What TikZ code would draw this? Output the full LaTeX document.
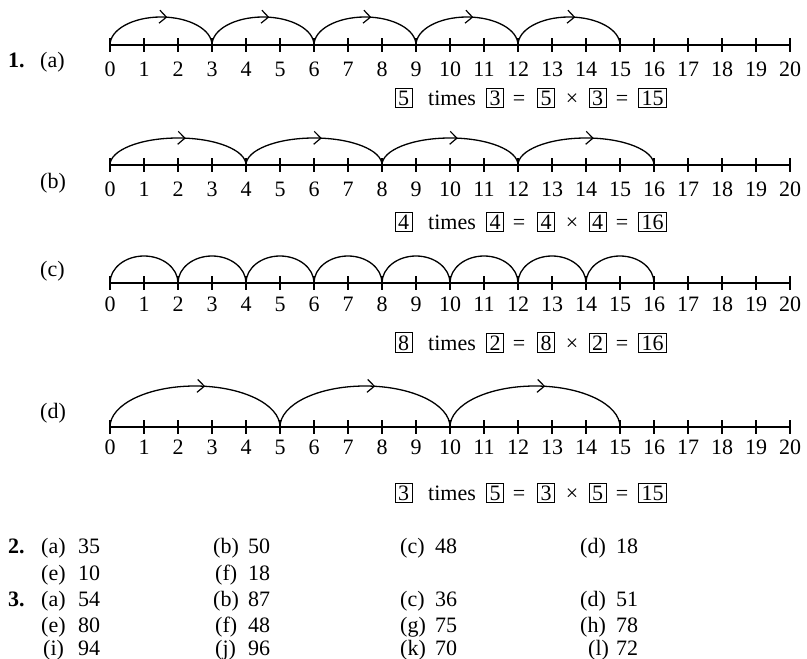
\documentclass[tikz,border=0pt]{standalone}
\usepackage{fontspec}
\setmainfont{Liberation Serif}
\usetikzlibrary{arrows.meta,decorations.markings}
\tikzset{
  axisline/.style={line width=2.6pt},
  tickline/.style={line width=1.7pt},
  jumpline/.style={line width=1.3pt},
  jumparrow/.style={jumpline, postaction={decorate},
    decoration={markings, mark=at position 0.55 with {\arrow{Straight Barb[length=7pt,width=13pt,line width=1.2pt]}}}},
  num/.style={font=\fontsize{22}{26}\selectfont, inner sep=0pt, anchor=base},
  txt/.style={font=\fontsize{22}{26}\selectfont, inner sep=0pt, anchor=base west},
  bx/.style={draw, line width=0.8pt, font=\fontsize{22}{26}\selectfont, inner xsep=3pt, inner ysep=2.5pt, anchor=base},
}
% #1 prefix, #2 axis y, #3 digit baseline offset
\newcommand\nline[3]{%
  \foreach \k in {0,...,20}{
    \coordinate (#1\k) at ({110+34*\k},#2);
    \draw[tickline] ({110+34*\k},#2-7) -- ({110+34*\k},#2+7);
    \node[num] (#1l\k) at ({110+34*\k},#2+#3) {\k};
  }
  \draw[axisline] (#10) -- (#120);
}
\newcommand\eqline[5]{%
  \node[bx] (#1e1) at (403.5,#2) {#3};
  \node[num] (#1e2) at (452,#2) {times};
  \node[bx] (#1e3) at (495,#2) {#4};
  \node[num] (#1e4) at (519,#2) {=};
  \node[bx] (#1e5) at (546,#2) {#3};
  \node[num] (#1e6) at (572,#2) {×};
  \node[bx] (#1e7) at (597.5,#2) {#4};
  \node[num] (#1e8) at (622,#2) {=};
  \node[bx] (#1e9) at (652.5,#2) {#5};
}
\begin{document}
\begin{tikzpicture}[x=1pt,y=-1pt]
\useasboundingbox (0,0) rectangle (807,659);
% (a)
\nline{a}{45}{31}
\foreach \s/\e in {0/3,3/6,6/9,9/12,12/15}
  \draw[jumparrow] (a\s) arc[start angle=180,end angle=0,x radius=51pt,y radius=28pt];
\node[txt] (n1) at (8,67) {\textbf{1.}};
\node[txt] (la) at (40,67) {(a)};
\eqline{a}{105}{5}{3}{15}
% (b)
\nline{b}{165}{31}
\foreach \s/\e in {0/4,4/8,8/12,12/16}
  \draw[jumparrow] (b\s) arc[start angle=180,end angle=0,x radius=68pt,y radius=27pt];
\node[txt] (lb) at (40,188) {(b)};
\eqline{b}{229}{4}{4}{16}
% (c)
\nline{c}{283}{28}
\foreach \s/\e in {0/2,2/4,4/6,6/8,8/10,10/12,12/14,14/16}
  \draw[jumpline] (c\s) arc[start angle=180,end angle=0,x radius=34pt,y radius=27pt];
\node[txt] (lc) at (40,276) {(c)};
\eqline{c}{350}{8}{2}{16}
% (d)
\nline{d}{427}{27}
\foreach \s/\e in {0/5,5/10,10/15}
  \draw[jumparrow] (d\s) arc[start angle=180,end angle=0,x radius=85pt,y radius=41pt];
\node[txt] (ld) at (40,418) {(d)};
\eqline{d}{500}{3}{5}{15}
% answers 2 and 3
\node[txt] (n2) at (8,553) {\textbf{2.}};
\node[txt] (q2a) at (41,553) {(a)}; \node[txt] (v2a) at (78,553) {35};
\node[txt] (q2b) at (213,553) {(b)}; \node[txt] (v2b) at (248,553) {50};
\node[txt] (q2c) at (400,553) {(c)}; \node[txt] (v2c) at (435,553) {48};
\node[txt] (q2d) at (580,553) {(d)}; \node[txt] (v2d) at (616,553) {18};
\node[txt] (q2e) at (41,580) {(e)}; \node[txt] (v2e) at (78,580) {10};
\node[txt] (q2f) at (215,580) {(f)}; \node[txt] (v2f) at (248,580) {18};
\node[txt] (n3) at (8,606) {\textbf{3.}};
\node[txt] (q3a) at (41,606) {(a)}; \node[txt] (v3a) at (78,606) {54};
\node[txt] (q3b) at (213,606) {(b)}; \node[txt] (v3b) at (248,606) {87};
\node[txt] (q3c) at (400,606) {(c)}; \node[txt] (v3c) at (435,606) {36};
\node[txt] (q3d) at (580,606) {(d)}; \node[txt] (v3d) at (616,606) {51};
\node[txt] (q3e) at (41,632) {(e)}; \node[txt] (v3e) at (78,632) {80};
\node[txt] (q3f) at (215,632) {(f)}; \node[txt] (v3f) at (248,632) {48};
\node[txt] (q3g) at (400,632) {(g)}; \node[txt] (v3g) at (435,632) {75};
\node[txt] (q3h) at (580,632) {(h)}; \node[txt] (v3h) at (616,632) {78};
\node[txt] (q3i) at (43,655) {(i)}; \node[txt] (v3i) at (78,655) {94};
\node[txt] (q3j) at (215,655) {(j)}; \node[txt] (v3j) at (248,655) {96};
\node[txt] (q3k) at (400,655) {(k)}; \node[txt] (v3k) at (435,655) {70};
\node[txt] (q3l) at (588,655) {(l)}; \node[txt] (v3l) at (616,655) {72};
\end{tikzpicture}
\end{document}
